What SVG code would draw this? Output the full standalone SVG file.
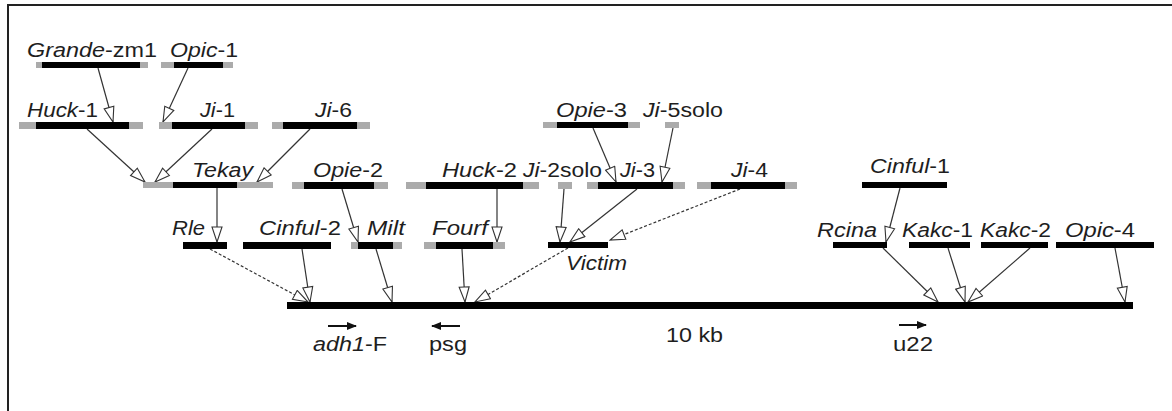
<svg xmlns="http://www.w3.org/2000/svg" width="1172" height="411" viewBox="0 0 1172 411">
  <defs>
    <style>
      text { font-family: "Liberation Sans", Arial, sans-serif; font-size: 20px; fill: #1e1e1e; }
      .it { font-style: italic; }
      .flank { fill: #ababab; }
      .core { fill: #000; }
      .link { stroke: #333; stroke-width: 1.2; fill: none; marker-end: url(#open); }
      .dash { stroke-dasharray: 3 2; }
      .dir { stroke: #111; stroke-width: 2; fill: none; marker-end: url(#solid); }
    </style>
    <marker id="open" viewBox="0 0 17 12" refX="16" refY="6" markerWidth="17" markerHeight="12" markerUnits="userSpaceOnUse" orient="auto">
      <path d="M1,1 L16,6 L1,11 Z" fill="#fff" stroke="#333" stroke-width="1.1"/>
    </marker>
    <marker id="solid" viewBox="0 0 10 8" refX="9" refY="4" markerWidth="10" markerHeight="8" markerUnits="userSpaceOnUse" orient="auto">
      <path d="M0,0 L10,4 L0,8 Z" fill="#111"/>
    </marker>
  </defs>

  <rect width="1172" height="411" fill="#fff"/>
  <!-- frame (only top and left edges fall inside the canvas) -->
  <rect x="8" y="5" width="1300" height="600" fill="none" stroke="#222" stroke-width="2"/>

  <!-- connectors -->
  <g id="connectors">
    <line class="link" x1="98" y1="68" x2="113" y2="122"/>
    <line class="link" x1="188" y1="68" x2="163" y2="122"/>
    <line class="link" x1="87" y1="129" x2="145" y2="182"/>
    <line class="link" x1="212" y1="129" x2="155" y2="182"/>
    <line class="link" x1="310" y1="129" x2="257" y2="182"/>
    <line class="link" x1="593" y1="128" x2="616" y2="182"/>
    <line class="link" x1="673" y1="128" x2="662" y2="182"/>
    <line class="link" x1="217" y1="188" x2="217" y2="242"/>
    <line class="link" x1="342" y1="189" x2="358" y2="242"/>
    <line class="link" x1="497" y1="189" x2="497" y2="242"/>
    <line class="link" x1="564" y1="189" x2="560" y2="242"/>
    <line class="link" x1="637" y1="189" x2="570" y2="242"/>
    <line class="link dash" x1="740" y1="189" x2="610" y2="240"/>
    <line class="link" x1="900" y1="188" x2="886" y2="242"/>
    <line class="link dash" x1="210" y1="249" x2="308" y2="302"/>
    <line class="link" x1="302" y1="249" x2="310" y2="302"/>
    <line class="link" x1="376" y1="249" x2="392" y2="302"/>
    <line class="link" x1="462" y1="249" x2="465" y2="302"/>
    <line class="link dash" x1="568" y1="248" x2="475" y2="302"/>
    <line class="link" x1="883" y1="248" x2="938" y2="302"/>
    <line class="link" x1="948" y1="248" x2="965" y2="302"/>
    <line class="link" x1="1030" y1="248" x2="968" y2="302"/>
    <line class="link" x1="1115" y1="248" x2="1125" y2="302"/>
  </g>

  <!-- row 1 -->
  <g id="grande-zm1">
    <rect class="flank" x="36" y="62" width="112" height="6"/>
    <rect class="core" x="42" y="62" width="98" height="6"/>
    <text x="27" y="57" textLength="130" lengthAdjust="spacingAndGlyphs"><tspan class="it">Grande</tspan>-zm1</text>
  </g>
  <g id="opic-1">
    <rect class="flank" x="161" y="62" width="72" height="6"/>
    <rect class="core" x="174" y="62" width="49" height="6"/>
    <text x="170" y="57" textLength="68" lengthAdjust="spacingAndGlyphs"><tspan class="it">Opic</tspan>-1</text>
  </g>

  <!-- row 2 -->
  <g id="huck-1">
    <rect class="flank" x="19" y="122" width="124" height="7"/>
    <rect class="core" x="36" y="122" width="93" height="7"/>
    <text x="27" y="117" textLength="71" lengthAdjust="spacingAndGlyphs"><tspan class="it">Huck</tspan>-1</text>
  </g>
  <g id="ji-1">
    <rect class="flank" x="159" y="122" width="99" height="7"/>
    <rect class="core" x="172" y="122" width="73" height="7"/>
    <text x="200" y="117" textLength="35" lengthAdjust="spacingAndGlyphs"><tspan class="it">Ji</tspan>-1</text>
  </g>
  <g id="ji-6">
    <rect class="flank" x="272" y="122" width="98" height="7"/>
    <rect class="core" x="283" y="122" width="74" height="7"/>
    <text x="315" y="117" textLength="37" lengthAdjust="spacingAndGlyphs"><tspan class="it">Ji</tspan>-6</text>
  </g>
  <g id="opie-3">
    <rect class="flank" x="543" y="122" width="97" height="6"/>
    <rect class="core" x="557" y="122" width="71" height="6"/>
    <text x="556" y="117" textLength="71" lengthAdjust="spacingAndGlyphs"><tspan class="it">Opie</tspan>-3</text>
  </g>
  <g id="ji-5solo">
    <rect class="flank" x="665" y="122" width="14" height="6"/>
    <text x="643" y="117" textLength="80" lengthAdjust="spacingAndGlyphs"><tspan class="it">Ji</tspan>-5solo</text>
  </g>

  <!-- row 3 -->
  <g id="tekay">
    <rect class="flank" x="143" y="182" width="130" height="6"/>
    <rect class="core" x="173" y="182" width="64" height="6"/>
    <text class="it" x="192" y="177" textLength="61" lengthAdjust="spacingAndGlyphs">Tekay</text>
  </g>
  <g id="opie-2">
    <rect class="flank" x="292" y="182" width="96" height="7"/>
    <rect class="core" x="304" y="182" width="70" height="7"/>
    <text x="313" y="177" textLength="70" lengthAdjust="spacingAndGlyphs"><tspan class="it">Opie</tspan>-2</text>
  </g>
  <g id="huck-2">
    <rect class="flank" x="406" y="182" width="133" height="7"/>
    <rect class="core" x="426" y="182" width="97" height="7"/>
    <text x="442" y="177" textLength="75" lengthAdjust="spacingAndGlyphs"><tspan class="it">Huck</tspan>-2</text>
  </g>
  <g id="ji-2solo">
    <rect class="flank" x="558" y="182" width="14" height="7"/>
    <text x="523" y="177" textLength="79" lengthAdjust="spacingAndGlyphs"><tspan class="it">Ji</tspan>-2solo</text>
  </g>
  <g id="ji-3">
    <rect class="flank" x="587" y="182" width="98" height="7"/>
    <rect class="core" x="598" y="182" width="75" height="7"/>
    <text x="620" y="177" textLength="35" lengthAdjust="spacingAndGlyphs"><tspan class="it">Ji</tspan>-3</text>
  </g>
  <g id="ji-4">
    <rect class="flank" x="697" y="182" width="100" height="7"/>
    <rect class="core" x="711" y="182" width="74" height="7"/>
    <text x="731" y="177" textLength="37" lengthAdjust="spacingAndGlyphs"><tspan class="it">Ji</tspan>-4</text>
  </g>
  <g id="cinful-1">
    <rect class="core" x="862" y="182" width="85" height="6"/>
    <text x="870" y="173" textLength="80" lengthAdjust="spacingAndGlyphs"><tspan class="it">Cinful</tspan>-1</text>
  </g>

  <!-- row 4 -->
  <g id="rle">
    <rect class="core" x="183" y="242" width="44" height="7"/>
    <text class="it" x="172" y="235" textLength="33" lengthAdjust="spacingAndGlyphs">Rle</text>
  </g>
  <g id="cinful-2">
    <rect class="core" x="243" y="242" width="88" height="7"/>
    <text x="259" y="235" textLength="82" lengthAdjust="spacingAndGlyphs"><tspan class="it">Cinful</tspan>-2</text>
  </g>
  <g id="milt">
    <rect class="flank" x="351" y="242" width="51" height="7"/>
    <rect class="core" x="358" y="242" width="35" height="7"/>
    <text class="it" x="367" y="235" textLength="38" lengthAdjust="spacingAndGlyphs">Milt</text>
  </g>
  <g id="fourf">
    <rect class="flank" x="424" y="242" width="81" height="7"/>
    <rect class="core" x="436" y="242" width="57" height="7"/>
    <text class="it" x="432" y="235" textLength="56" lengthAdjust="spacingAndGlyphs">Fourf</text>
  </g>
  <g id="victim">
    <rect class="core" x="548" y="242" width="60" height="6"/>
    <text class="it" x="566" y="270" textLength="61" lengthAdjust="spacingAndGlyphs">Victim</text>
  </g>
  <g id="rcina">
    <rect class="core" x="833" y="242" width="54" height="6"/>
    <text class="it" x="817" y="237" textLength="60" lengthAdjust="spacingAndGlyphs">Rcina</text>
  </g>
  <g id="kakc-1">
    <rect class="core" x="909" y="242" width="61" height="6"/>
    <text x="902" y="237" textLength="71" lengthAdjust="spacingAndGlyphs"><tspan class="it">Kakc</tspan>-1</text>
  </g>
  <g id="kakc-2">
    <rect class="core" x="981" y="242" width="67" height="6"/>
    <text x="980" y="237" textLength="71" lengthAdjust="spacingAndGlyphs"><tspan class="it">Kakc</tspan>-2</text>
  </g>
  <g id="opic-4">
    <rect class="core" x="1056" y="242" width="98" height="6"/>
    <text x="1065" y="237" textLength="70" lengthAdjust="spacingAndGlyphs"><tspan class="it">Opic</tspan>-4</text>
  </g>

  <!-- adh1 locus -->
  <g id="locus">
    <rect class="core" x="287" y="302" width="846" height="7"/>
  </g>

  <!-- genes and scale below the locus -->
  <g id="adh1-F">
    <line class="dir" x1="328" y1="326" x2="356" y2="326"/>
    <text x="313" y="351" textLength="74" lengthAdjust="spacingAndGlyphs"><tspan class="it">adh1</tspan>-F</text>
  </g>
  <g id="psg">
    <line class="dir" x1="460" y1="326" x2="432" y2="326"/>
    <text x="429" y="351" textLength="38" lengthAdjust="spacingAndGlyphs">psg</text>
  </g>
  <g id="scale">
    <text x="666" y="342" textLength="57" lengthAdjust="spacingAndGlyphs">10 kb</text>
  </g>
  <g id="u22">
    <line class="dir" x1="899" y1="325" x2="926" y2="325"/>
    <text x="893" y="351" textLength="40" lengthAdjust="spacingAndGlyphs">u22</text>
  </g>
</svg>
